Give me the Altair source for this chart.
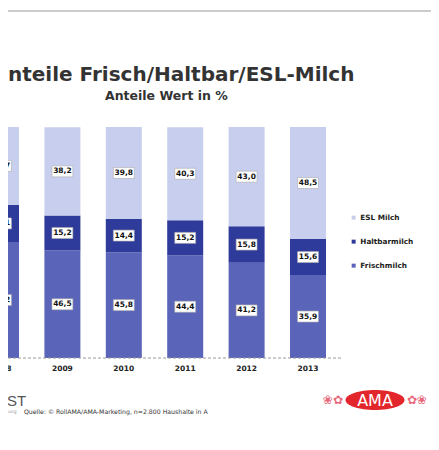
import altair as alt
import pandas as pd

years = [2008, 2009, 2010, 2011, 2012, 2013]
frisch = [50.2, 46.5, 45.8, 44.4, 41.2, 35.9]
haltbar = [16.1, 15.2, 14.4, 15.2, 15.8, 15.6]
esl = [33.7, 38.2, 39.8, 40.3, 43.0, 48.5]
series = ["ESL Milch", "Haltbarmilch", "Frischmilch"]
colors = ["#c8cfee", "#2f3b9b", "#5a64b8"]

title_text = "nteile Frisch/Haltbar/ESL-Milch"
subtitle_text = "Anteile Wert in %"
source_text = "Quelle: \u00a9 RollAMA/AMA-Marketing, n=2.800 Haushalte in A"

rows = []
for i, y in enumerate(years):
    lo = 0.0
    for name, vals in (("Frischmilch", frisch), ("Haltbarmilch", haltbar), ("ESL Milch", esl)):
        v = vals[i]
        rows.append({"year": y, "series": name, "lo": lo, "hi": lo + v,
                     "mid": lo + v / 2, "label": f"{v:.1f}".replace(".", ",")})
        lo += v
df = pd.DataFrame(rows)
ydf = pd.DataFrame({"year": years, "ylabel": [str(y) for y in years]})
one = pd.DataFrame({"a": [0]})

FONT = "DejaVu Sans"
xs = alt.Scale(domain=[2008, 2013], range=[-12, 305], nice=False, zero=False)
ys = alt.Scale(domain=[0, 100], range=[350, 119], nice=False)

top_line = alt.Chart(one).mark_rule(color="#999999", strokeWidth=1.2).encode(
    x=alt.value(0), x2=alt.value(423), y=alt.value(3))

bars = alt.Chart(df).mark_bar(size=36, clip=True).encode(
    x=alt.X("year:Q", scale=xs, axis=None),
    y=alt.Y("hi:Q", scale=ys, axis=None),
    y2="lo:Q",
    color=alt.Color("series:N", scale=alt.Scale(domain=series, range=colors),
                    legend=alt.Legend(orient="none", legendX=342, legendY=206, title=None,
                                      symbolType="square", symbolSize=16, symbolStrokeWidth=0,
                                      labelFont=FONT, labelFontSize=7.3, labelFontWeight="bold",
                                      labelColor="#222222", rowPadding=16, labelOffset=3)),
)

baseline = alt.Chart(one).mark_rule(color="#9a9a9a", strokeDash=[3, 2], strokeWidth=1).encode(
    x=alt.value(0), x2=alt.value(334), y=alt.value(350))

box_shape = "M-1.9,-1L1.9,-1L1.9,1L-1.9,1Z"
boxes = alt.Chart(df).mark_point(shape=box_shape, filled=True, fill="white", stroke="#aaaaaa",
                                 strokeWidth=0.6, opacity=1, size=121, clip=True).encode(
    x=alt.X("year:Q", scale=xs), y=alt.Y("mid:Q", scale=ys))

labels = alt.Chart(df).mark_text(font=FONT, fontSize=7.5, fontWeight="bold", color="#111111",
                                 clip=True).encode(
    x=alt.X("year:Q", scale=xs), y=alt.Y("mid:Q", scale=ys), text="label:N")

year_labels = alt.Chart(ydf).mark_text(font=FONT, fontSize=7.5, fontWeight="bold",
                                       color="#222222", baseline="middle").encode(
    x=alt.X("year:Q", scale=xs), y=alt.value(361), text="ylabel:N")

title = alt.Chart(one).mark_text(text=title_text, font=FONT, fontSize=20, fontWeight="bold",
                                 color="#333333", align="left", baseline="alphabetic").encode(
    x=alt.value(0), y=alt.value(73))
subtitle = alt.Chart(one).mark_text(text=subtitle_text, font=FONT, fontSize=12.5, fontWeight="bold",
                                    color="#333333", align="left", baseline="alphabetic").encode(
    x=alt.value(97), y=alt.value(92))

st = alt.Chart(one).mark_text(text="ST", font="Liberation Sans", fontSize=15, color="#555555",
                              align="left", baseline="middle").encode(
    x=alt.value(-1), y=alt.value(393))
ung = alt.Chart(one).mark_text(text="ung", font=FONT, fontSize=4.5, color="#999999",
                               align="left", baseline="middle").encode(
    x=alt.value(0), y=alt.value(404))
source = alt.Chart(one).mark_text(text=source_text, font=FONT, fontSize=6.2, color="#333333",
                                  align="left", baseline="middle").encode(
    x=alt.value(16), y=alt.value(404))

ellipse = ("M-1,0C-1,-0.1878,-0.5523,-0.34,0,-0.34C0.5523,-0.34,1,-0.1878,1,0"
           "C1,0.1878,0.5523,0.34,0,0.34C-0.5523,0.34,-1,0.1878,-1,0Z")
logo_bg = alt.Chart(one).mark_point(shape=ellipse, filled=True, fill="#e2262b", opacity=1,
                                    size=3481, strokeWidth=0).encode(
    x=alt.value(367), y=alt.value(392))
logo_text = alt.Chart(one).mark_text(text="AMA", font=FONT, fontSize=16, color="white",
                                     baseline="middle").encode(
    x=alt.value(367), y=alt.value(393))
flower_l = alt.Chart(one).mark_text(text="\u2740\u273f", font=FONT, fontSize=12, color="#e8677a",
                                    baseline="middle").encode(
    x=alt.value(325), y=alt.value(392))
flower_r = alt.Chart(one).mark_text(text="\u273f\u2740", font=FONT, fontSize=12, color="#e8677a",
                                    baseline="middle").encode(
    x=alt.value(409), y=alt.value(392))

chart = alt.layer(top_line, bars, baseline, boxes, labels, year_labels, title, subtitle,
                  st, ung, source, logo_bg, logo_text, flower_l, flower_r).properties(
    width=423, height=428,
    autosize=alt.AutoSizeParams(type="none"),
    padding=0,
).configure_view(stroke=None)

chart.save("out.html", embed_options={"renderer": "svg", "actions": False})
